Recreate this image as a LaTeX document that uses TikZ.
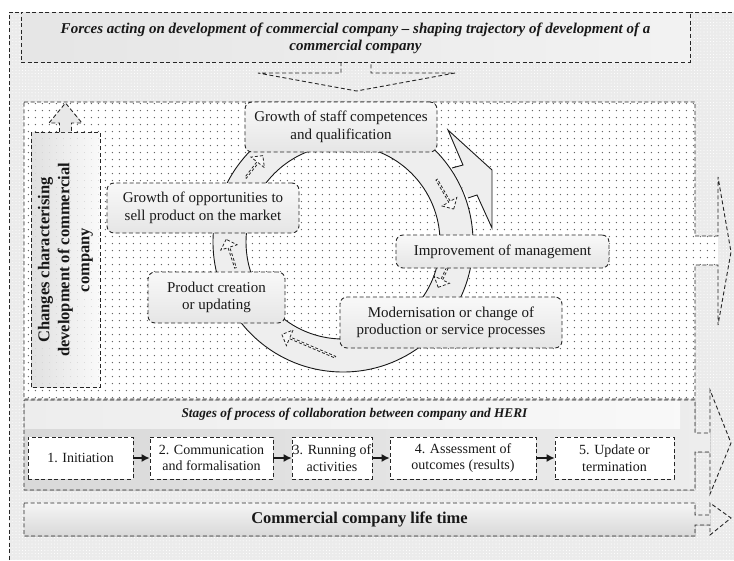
\documentclass[tikz,border=0pt]{standalone}
\usepackage{fontspec}
\setmainfont{Liberation Serif}
\usetikzlibrary{patterns.meta,shapes.arrows,arrows.meta}
\begin{document}
\begin{tikzpicture}[x=1pt,y=-1pt,
  dsh/.style={draw=black!85, line width=0.9pt, dash pattern=on 4pt off 2.6pt},
  rbox/.style={dsh, rounded corners=7pt, top color=gray!5, bottom color=gray!20, align=center, inner sep=0pt, font=\fontsize{15}{17.5}\selectfont, text=black!90},
  sbox/.style={dsh, fill=white, align=center, inner sep=0pt, minimum height=42pt, font=\fontsize{14}{16.5}\selectfont, text=black!90},
  sarr/.style={-{Latex[length=8pt,width=8pt]}, line width=1.1pt, black!90},
  ringline/.style={draw=black!90, line width=0.9pt},
  minar/.style={single arrow, draw=black!85, line width=0.8pt, dash pattern=on 3pt off 2pt, minimum width=17pt, single arrow head extend=3.5pt, inner sep=0pt, fill=gray!6},
  bgtex/.style={preaction={fill=gray!16}, pattern={Dots[distance=3.2pt,radius=0.55pt]}, pattern color=white},
  dottex/.style={preaction={fill=white}, pattern={Dots[distance=7.4pt,radius=0.75pt]}, pattern color=black!60},
  lbl/.style={inner sep=0pt, align=center, text=black!90}
]
\useasboundingbox (0,0) rectangle (734,560);
% outer background
\fill[bgtex] (9,12) rectangle (734,560);
\draw[dsh] (9,560) -- (9,12) -- (734,12);
% top banner
\node[dsh, left color=gray!20, right color=gray!10, minimum width=669pt, minimum height=50pt, inner sep=0pt] (forces) at (355.5,37) {};
\node[lbl, font=\fontsize{15}{17.5}\selectfont\bfseries\itshape] (forcestxt) at (355.5,38.5) {Forces acting on development of commercial company -- shaping trajectory of development of a\\commercial company};
% down arrow
\coordinate (dA) at (341,62);
\coordinate (dB) at (371,62);
\draw[dsh] (dA) -- (341,73) -- (258,73) -- (356.5,91) -- (455,73) -- (371,73) -- (dB);
% dotted region with right arrow
\fill[dottex] (24,102) -- (695,102) -- (695,236) -- (718,236) -- (718,265) -- (695,265) -- (695,399) -- (24,399) -- cycle;
\draw[dsh] (24,102) -- (695,102) -- (695,236) -- (718,236) -- (718,177) -- (731,252) -- (718,325) -- (718,265) -- (695,265) -- (695,399) -- (24,399) -- cycle;
% stages region with arrow
\fill[left color=gray!30, right color=gray!14] (24,400) -- (695,400) -- (695,433) -- (710,433) -- (710,452) -- (695,452) -- (695,490) -- (24,490) -- cycle;
\fill[left color=gray!14, right color=gray!5] (25,401) rectangle (680,428);
\draw[dsh] (24,400) -- (695,400) -- (695,433) -- (710,433) -- (710,390) -- (731,443) -- (710,494) -- (710,452) -- (695,452) -- (695,490) -- (24,490) -- cycle;
\node[lbl, font=\fontsize{13.3}{15}\selectfont\bfseries\itshape] (stagestxt) at (354.5,414) {Stages of process of collaboration between company and HERI};
% life time bar with arrow
\fill[top color=gray!8, bottom color=gray!30] (24,503) -- (695,503) -- (695,515) -- (710,515) -- (710,525) -- (695,525) -- (695,536) -- (24,536) -- cycle;
\draw[dsh] (24,503) -- (695,503) -- (695,515) -- (710,515) -- (710,503) -- (731,518) -- (710,535) -- (710,525) -- (695,525) -- (695,536) -- (24,536) -- cycle;
\node[lbl, font=\fontsize{16.5}{18}\selectfont\bfseries] (lifetxt) at (359.5,519.5) {Commercial company life time};
% left vertical box with up arrow
\fill[left color=gray!24, right color=gray!4] (31,132) rectangle (100,387);
\fill[pattern={Dots[distance=7.4pt,radius=0.5pt]}, pattern color=gray!35] (31,132) rectangle (100,387);
\draw[dsh] (31,132) rectangle (100,387);
\fill[gray!18] (59.5,132) -- (59.5,123) -- (49,123) -- (65.5,103) -- (82,123) -- (71.5,123) -- (71.5,132) -- cycle;
\draw[dsh] (59.5,132) -- (59.5,123) -- (49,123) -- (65.5,103) -- (82,123) -- (71.5,123) -- (71.5,132);
\node[lbl, rotate=90, font=\fontsize{16.5}{20}\selectfont\bfseries] (changes) at (65.5,260) {Changes characterising\\development of commercial\\company};
% cycle ring
\coordinate (C) at (343,242);
\filldraw[ringline, fill=gray!13] (452,168) -- (463,165) -- (448,130) -- (492,170) -- (492,228) -- (477,195) -- (468,198);
\fill[gray!13, even odd rule] (C) circle[radius=130pt] (C) circle[radius=97pt];
\draw[ringline] (C) circle[radius=130pt];
\draw[ringline] (C) circle[radius=97pt];
% small dashed arrows in ring
\node[minar, minimum height=28pt, rotate=52] (a1) at (254,167) {};
\node[minar, minimum height=30pt, rotate=108] (a2) at (231,254) {};
\node[minar, minimum height=58pt, rotate=157] (a3) at (309,346) {};
\node[minar, minimum height=22pt, rotate=-115] (a4) at (443,277) {};
\node[minar, minimum height=34pt, rotate=-60] (a5) at (445,194) {};
% ring boxes
\node[rbox, minimum width=192pt, minimum height=50pt] (staff) at (341,127) {Growth of staff competences\\and qualification};
\node[rbox, minimum width=192pt, minimum height=50pt] (opp) at (203,208) {Growth of opportunities to\\sell product on the market};
\node[rbox, minimum width=137pt, minimum height=51pt] (prod) at (216.5,297.5) {Product creation\\or updating};
\node[rbox, minimum width=213pt, minimum height=33pt] (impr) at (502.5,251.5) {Improvement of management};
\node[rbox, minimum width=222pt, minimum height=51pt] (mod) at (451,322.5) {Modernisation or change of\\production or service processes};
% stage boxes
\node[sbox, minimum width=105pt] (s1) at (80.5,458) {1. Initiation};
\node[sbox, minimum width=123pt] (s2) at (211.5,458) {2. Communication\\and formalisation};
\node[sbox, minimum width=80pt] (s3) at (332,458) {3. Running of\\activities};
\node[sbox, minimum width=146pt] (s4) at (463,458) {4. Assessment of\\outcomes (results)};
\node[sbox, minimum width=119pt] (s5) at (614.5,458) {5. Update or\\termination};
\draw[sarr] (s1) -- (s2);
\draw[sarr] (s2) -- (s3);
\draw[sarr] (s3) -- (s4);
\draw[sarr] (s4) -- (s5);
\end{tikzpicture}
\end{document}
